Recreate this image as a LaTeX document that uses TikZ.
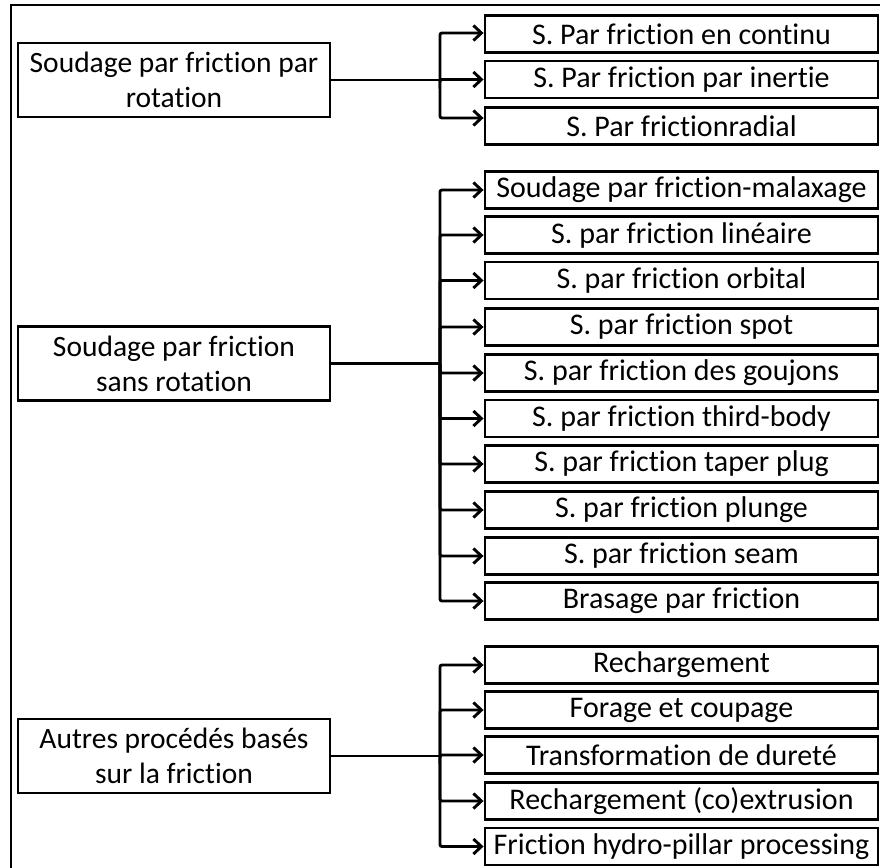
\documentclass[tikz,border=0pt]{standalone}
\usepackage{fontspec}
\setmainfont{Carlito}[RawFeature={-liga}]
\usetikzlibrary{arrows.meta}
\tikzset{
  x=1pt, y=-1pt,
  ln/.style={line width=2.9pt, black},
  child/.style={ln, draw, rectangle, minimum width=393pt, minimum height=37pt, inner sep=0pt, font=\fontsize{30}{32}\selectfont},
  parent/.style={ln, draw, rectangle, minimum width=312pt, minimum height=74pt, inner sep=0pt, align=center, font=\fontsize{29.5}{35}\selectfont},
  conn/.style={ln, rounded corners=2pt},
  arr/.style={ln, rounded corners=2pt, -{Straight Barb[length=8pt,width=15pt,line width=2.9pt]}}
}
\begin{document}
\begin{tikzpicture}
\useasboundingbox (0,0) rectangle (880,867);
% outer frame (clipped at right and bottom)
\draw[ln] (11,870) -- (11,5) -- (883,5);

% parents
\node[parent] (p1) at (174,80) {Soudage par friction par\\rotation};
\node[parent] (p2) at (174,363.5) {Soudage par friction\\sans rotation};
\node[parent] (p3) at (174,756) {Autres procédés basés\\sur la friction};

% group 1
\node[child] (a1) at (681.5,34) {S. Par friction en continu};
\node[child] (a2) at (681.5,79.5) {S. Par friction par inertie};
\node[child] (a3) at (681.5,126) {S. Par frictionradial};

% group 2
\node[child] (b1) at (681.5,190) {Soudage par friction-malaxage};
\node[child] (b2) at (681.5,235) {S. par friction linéaire};
\node[child] (b3) at (681.5,280.5) {S. par friction orbital};
\node[child] (b4) at (681.5,327) {S. par friction spot};
\node[child] (b5) at (681.5,373) {S. par friction des goujons};
\node[child] (b6) at (681.5,418.5) {S. par friction third-body};
\node[child] (b7) at (681.5,464) {S. par friction taper plug};
\node[child] (b8) at (681.5,510) {S. par friction plunge};
\node[child] (b9) at (681.5,556) {S. par friction seam};
\node[child] (b10) at (681.5,601) {Brasage par friction};

% group 3
\node[child] (c1) at (681.5,665) {Rechargement};
\node[child] (c2) at (681.5,710) {Forage et coupage};
\node[child] (c3) at (681.5,755) {Transformation de dureté};
\node[child] (c4) at (681.5,801) {Rechargement (co)extrusion};
\node[child] (c5) at (681.5,846.5) {Friction hydro-pillar processing};

% junction coordinates on trunks
\coordinate (j1) at (440,80);
\coordinate (j2) at (440,363.5);
\coordinate (j3) at (440,756);

% group 1 connectors
\draw[conn] (p1.east) -- (j1);
\draw[arr] (j1) |- ([yshift=1pt]a1.west);
\draw[arr] (j1) |- (a2.west);
\draw[arr] (j1) |- ([yshift=8pt]a3.west);

% group 2 connectors
\draw[conn] (p2.east) -- (j2);
\foreach \n in {b1,b2,b3,b4,b5,b6,b7,b8,b9,b10}
  \draw[arr] (j2) |- (\n.west);

% group 3 connectors
\draw[conn] (p3.east) -- (j3);
\foreach \n in {c1,c2,c3,c4,c5}
  \draw[arr] (j3) |- (\n.west);
\end{tikzpicture}
\end{document}
